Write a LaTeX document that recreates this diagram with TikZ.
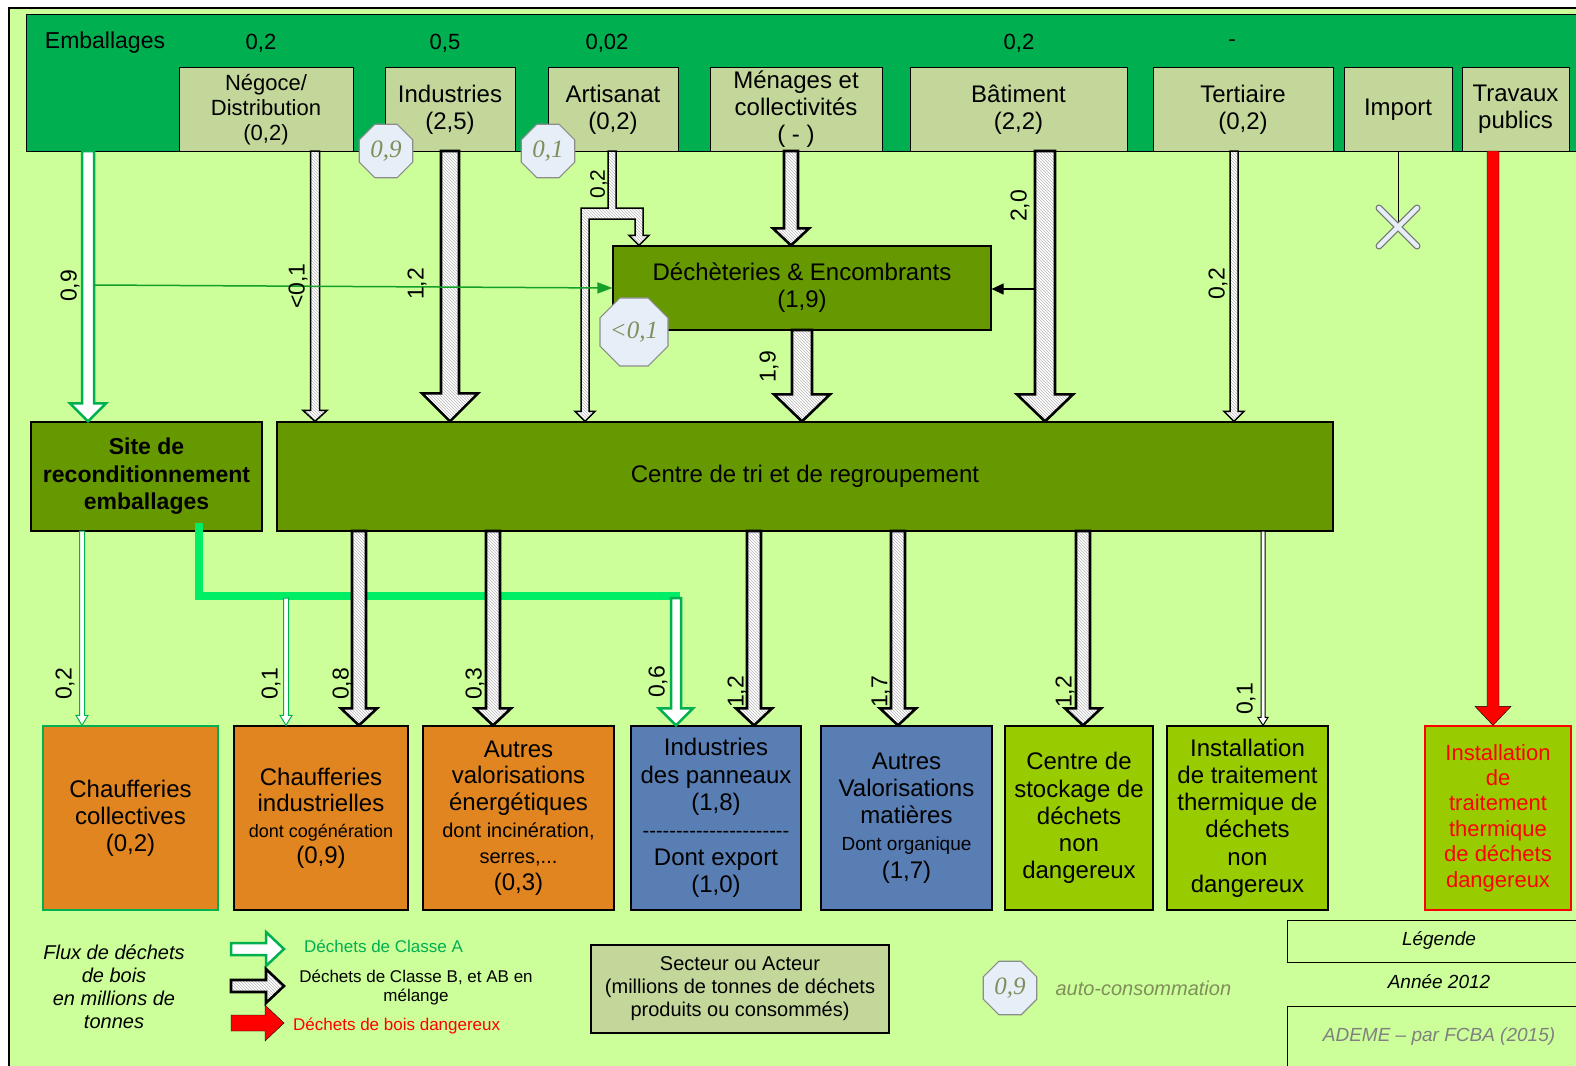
\documentclass[tikz,border=0pt]{standalone}
\usepackage{fontspec}
\setmainfont{Liberation Sans}
\newfontfamily\octfont{Liberation Serif}
\usetikzlibrary{calc,shapes.geometric,patterns,arrows.meta}
\definecolor{bgg}{RGB}{204,255,153}
\definecolor{bandg}{RGB}{0,176,80}
\definecolor{khaki}{RGB}{196,215,155}
\definecolor{olivebox}{RGB}{102,153,0}
\definecolor{orng}{RGB}{224,133,32}
\definecolor{blu}{RGB}{88,126,180}
\definecolor{ygreen}{RGB}{153,204,0}
\definecolor{brightg}{RGB}{0,238,102}
\definecolor{octfill}{RGB}{230,238,248}
\definecolor{octtext}{RGB}{128,142,90}
\definecolor{greenA}{RGB}{0,176,80}
\definecolor{thing}{RGB}{20,160,40}
\newcommand\fs[2]{\fontsize{#1}{#2}\selectfont}
\newcommand\hyph{\hbox{-}}
\newcommand\varrow[6]{\draw[#1] let \p1=#2, \p2=#3 in (\x1-#4,\y1) -- (\x1-#4,\y2+#6) -- (\x1-#5,\y2+#6) -- (\x1,\y2) -- (\x1+#5,\y2+#6) -- (\x1+#4,\y2+#6) -- (\x1+#4,\y1) -- cycle;}
\newcommand\harrow[6]{\draw[#1] let \p1=#2, \p2=#3 in (\x1,\y1+#4) -- (\x2-#6,\y1+#4) -- (\x2-#6,\y1+#5) -- (\x2,\y1) -- (\x2-#6,\y1-#5) -- (\x2-#6,\y1-#4) -- (\x1,\y1-#4) -- cycle;}
\begin{document}
\begin{tikzpicture}[x=1pt,y=-1pt,
  sect/.style={draw=black, line width=1pt, fill=khaki, minimum height=83pt, align=center, inner sep=1pt, font=\fs{24}{27}},
  obox/.style={draw=black, line width=1.2pt, fill=olivebox, align=center, inner sep=1pt, font=\fs{24}{27}},
  dbox/.style={draw=black, line width=1.2pt, minimum height=184pt, align=center, inner sep=1pt, font=\fs{24}{27.2}},
  oct/.style={regular polygon, regular polygon sides=8, minimum size=58pt, inner sep=0pt, fill=octfill, draw=black!45, line width=1.2pt, font=\octfont\itshape\fs{25}{25}, text=octtext},
  rlab/.style={rotate=90, font=\fs{23}{23}, inner sep=0pt},
  num/.style={font=\fs{22}{22}},
  arB/.style={draw=black, line width=2.6pt, preaction={fill=white}, pattern=north west lines, pattern color=black!28},
  arBthin/.style={draw=black, line width=1.5pt, preaction={fill=white}, pattern=north west lines, pattern color=black!28},
  arA/.style={draw=greenA, line width=2.5pt, fill=white},
  arAthin/.style={draw=greenA, line width=1pt, fill=white},
  lgtext/.style={font=\fs{17}{19}, inner sep=0pt}
]
\useasboundingbox (0,0) rectangle (1576,1065);
\clip (0,0) rectangle (1576,1065);
\fill[white] (0,0) rectangle (1576,1065);
\fill[bgg] (9,8) rectangle (1590,1075);
\draw[line width=2.5pt] (9,1075) -- (9,8) -- (1590,8);
\draw[fill=bandg, line width=1pt] (26,15) rectangle (1590,151);

% band labels
\node[font=\fs{23}{23}] (temb) at (105,43) {Emballages};
\node[num] (n1) at (261,43) {0,2};
\node[num] (n2) at (445,43) {0,5};
\node[num] (n3) at (607,43) {0,02};
\node[num] (n4) at (1019,43) {0,2};
\node[num] (n5) at (1232,43) {-};

% sector boxes
\node[sect, minimum width=174pt, font=\fs{22}{25}] (neg) at (266,109.5) {Négoce/\\Distribution\\(0,2)};
\node[sect, minimum width=130pt] (ind) at (450,109.5) {Industries\\(2,5)};
\node[sect, minimum width=130pt] (art) at (613,109.5) {Artisanat\\(0,2)};
\node[sect, minimum width=172pt] (men) at (796,109.5) {Ménages et\\collectivités\\( - )};
\node[sect, minimum width=217pt] (bat) at (1018.5,109.5) {Bâtiment\\(2,2)};
\node[sect, minimum width=180pt] (ter) at (1243,109.5) {Tertiaire\\(0,2)};
\node[sect, minimum width=108pt] (imp) at (1398,109.5) {Import};
\node[sect, minimum width=107pt] (trv) at (1515.5,109.5) {Travaux\\publics};

% middle boxes
\node[obox, minimum width=378pt, minimum height=84pt] (dech) at (802,288) {Déchèteries \& Encombrants\\(1,9)};
\node[obox, minimum width=231pt, minimum height=109pt, font=\bfseries\fs{23}{27.5}] (site) at (146.5,476.5) {Site de\\reconditionnement\\emballages};
\node[obox, minimum width=1056pt, minimum height=109pt] (tri) at (805,476.5) {Centre de tri et de regroupement};

% bottom boxes
\node[dbox, fill=orng, draw=greenA, minimum width=175pt] (b1) at (130.5,818) {Chaufferies\\collectives\\(0,2)};
\node[dbox, fill=orng, minimum width=174pt, font=\fs{24}{26}] (b2) at (321,818) {Chaufferies\\industrielles\\{\fs{18}{22}dont cogénération}\\(0,9)};
\node[dbox, fill=orng, minimum width=191pt, font=\fs{24}{26.6}] (b3) at (518.5,818) {Autres\\valorisations\\énergétiques\\{\fs{20}{24}dont incinération,}\\{\fs{20}{24}serres,...}\\(0,3)};
\node[dbox, fill=blu, minimum width=170pt, font=\fs{24}{27.4}] (b4) at (716,818) {Industries\\des panneaux\\(1,8)\\{\fs{20}{24}\hyph\hyph\hyph\hyph\hyph\hyph\hyph\hyph\hyph\hyph\hyph\hyph\hyph\hyph\hyph\hyph\hyph\hyph\hyph\hyph\hyph\hyph}\\Dont export\\(1,0)};
\node[dbox, fill=blu, minimum width=171pt] (b5) at (906.5,818) {Autres\\Valorisations\\matières\\{\fs{19}{23}Dont organique}\\(1,7)};
\node[dbox, fill=ygreen, minimum width=148pt] (b6) at (1079,818) {Centre de\\stockage de\\déchets\\non\\dangereux};
\node[dbox, fill=ygreen, minimum width=161pt] (b7) at (1247.5,818) {Installation\\de traitement\\thermique de\\déchets\\non\\dangereux};
\node[dbox, fill=ygreen, draw=red, text=red, minimum width=146pt, font=\fs{22}{25.4}] (b8) at (1498,818) {Installation\\de\\traitement\\thermique\\de déchets\\dangereux};

% coordinates
\coordinate (cemb) at (88,151);
\coordinate (cneg) at (315,151);
\coordinate (cind) at (450,151);
\coordinate (cart) at (612,151);
\coordinate (cmen) at (791,151);
\coordinate (cbat) at (1045,151);
\coordinate (cter) at (1234,151);
\coordinate (cimp) at (1398,151);
\coordinate (ctrv) at (1493,151);
\coordinate (cdech) at (802,330);
\coordinate (impx) at (1398,227);
\coordinate (gl) at (94,285);
\coordinate (bl) at (1035,289);
\coordinate (s1) at (82,531);
\coordinate (gtop) at (199,523);
\coordinate (gcorner) at (199,596);
\coordinate (gend) at (680,596);
\coordinate (g1) at (286,598);
\coordinate (g6) at (676,598);
\coordinate (t2) at (359,531);
\coordinate (t3) at (493,531);
\coordinate (t4) at (754,531);
\coordinate (t5) at (898,531);
\coordinate (t6) at (1083,531);
\coordinate (t7) at (1263,531);

% bright green line
\draw[brightg, line width=8pt] (gtop) -- (gcorner) -- (gend);

% top arrows
\varrow{arA}{(cemb)}{(cemb |- site.north)}{6pt}{18pt}{18pt}
\varrow{arBthin}{(cneg)}{(cneg |- tri.north)}{4.5pt}{12pt}{11pt}
\varrow{arB}{(cind)}{(cind |- tri.north)}{9pt}{28pt}{28pt}
\draw[arBthin] let \p1=(cart), \p2=(tri.north), \p3=(dech.north) in
  (\x1-4pt,\y1) -- (\x1-4pt,\y1-57pt) -- (\x1-31pt,\y1-57pt) -- (\x1-31pt,\y2+10pt) -- (\x1-37pt,\y2+10pt) -- (\x1-27pt,\y2) -- (\x1-17pt,\y2+10pt) -- (\x1-23pt,\y2+10pt) -- (\x1-23pt,\y1-68pt) -- (\x1+23pt,\y1-68pt) -- (\x1+23pt,\y3+10pt) -- (\x1+17pt,\y3+10pt) -- (\x1+27pt,\y3) -- (\x1+37pt,\y3+10pt) -- (\x1+31pt,\y3+10pt) -- (\x1+31pt,\y1-57pt) -- (\x1+4pt,\y1-57pt) -- (\x1+4pt,\y1) -- cycle;
\varrow{arB}{(cmen)}{(cmen |- dech.north)}{7pt}{18pt}{17pt}
\varrow{arB}{(cbat)}{(cbat |- tri.north)}{10pt}{28pt}{27pt}
\varrow{arBthin}{(cter)}{(cter |- tri.north)}{4pt}{10pt}{10pt}
\varrow{arB}{(cdech)}{(cdech |- tri.north)}{10pt}{28pt}{27pt}
\varrow{fill=red}{(ctrv)}{(ctrv |- b8.north)}{6pt}{18pt}{19pt}

% import
\draw[line width=1pt] (cimp) -- (impx);
\draw[black!55, line width=7pt, line cap=round] ($(impx)+(-19,-19)$) -- ($(impx)+(19,19)$);
\draw[black!55, line width=7pt, line cap=round] ($(impx)+(-19,19)$) -- ($(impx)+(19,-19)$);
\draw[octfill, line width=4.5pt, line cap=round] ($(impx)+(-19,-19)$) -- ($(impx)+(19,19)$);
\draw[octfill, line width=4.5pt, line cap=round] ($(impx)+(-19,19)$) -- ($(impx)+(19,-19)$);

% thin connectors to dech
\draw[thing, line width=1.5pt, -{Triangle[length=15pt,width=11pt]}] (gl) -- (dech.west);
\draw[black, line width=1.2pt, -{Triangle[length=12pt,width=11pt]}] (bl) -- (dech.east |- bl);

% bottom arrows
\varrow{arAthin}{(s1)}{(s1 |- b1.north)}{2.5pt}{6pt}{10pt}
\varrow{arAthin}{(g1)}{(g1 |- b2.north)}{2.5pt}{6pt}{10pt}
\varrow{arA}{(g6)}{(g6 |- b4.north)}{5pt}{17pt}{17pt}
\varrow{arB}{(t2)}{(t2 |- b2.north)}{7pt}{18pt}{17pt}
\varrow{arB}{(t3)}{(t3 |- b3.north)}{7pt}{18pt}{17pt}
\varrow{arB}{(t4)}{(t4 |- b4.north)}{7pt}{18pt}{17pt}
\varrow{arB}{(t5)}{(t5 |- b5.north)}{7pt}{18pt}{17pt}
\varrow{arB}{(t6)}{(t6 |- b6.north)}{7pt}{18pt}{17pt}
\varrow{draw=black, line width=1pt, fill=white}{(t7)}{(t7 |- b7.north)}{2pt}{5pt}{8pt}

% octagons
\node[oct] (o1) at (386,151) {0,9};
\node[oct] (o2) at (548,151) {0,1};
\node[oct] (o3) at (634,332) {<0,1};

% flow labels
\node[rlab] (l1) at (70,286) {0,9};
\node[rlab] (l2) at (298,286) {<0,1};
\node[rlab] (l3) at (417,284) {1,2};
\node[rlab, font=\fs{21}{21}] (l4) at (599,184) {0,2};
\node[rlab] (l5) at (1020,206) {2,0};
\node[rlab] (l6) at (1218,284) {0,2};
\node[rlab] (l7) at (769,367) {1,9};
\node[rlab] (l8) at (65,684) {0,2};
\node[rlab] (l9) at (271,684) {0,1};
\node[rlab] (l10) at (342,684) {0,8};
\node[rlab] (l11) at (475,684) {0,3};
\node[rlab] (l12) at (658,682) {0,6};
\node[rlab] (l13) at (737,692) {1,2};
\node[rlab] (l14) at (881,692) {1,7};
\node[rlab] (l15) at (1065,692) {1,2};
\node[rlab] (l16) at (1246,699) {0,1};

% legend
\node[font=\itshape\fs{20}{23}, align=center] (flux) at (114,987) {Flux de déchets\\de bois\\en millions de\\tonnes};
\coordinate (la1) at (231,949); \coordinate (la2) at (284,949);
\coordinate (lb1) at (231,986); \coordinate (lb2) at (284,986);
\coordinate (lr1) at (231,1023); \coordinate (lr2) at (284,1023);
\harrow{draw=greenA, line width=2.5pt, fill=white}{(la1)}{(la2)}{6pt}{17pt}{18pt}
\harrow{arB}{(lb1)}{(lb2)}{6pt}{17pt}{18pt}
\harrow{fill=red}{(lr1)}{(lr2)}{8pt}{18pt}{19pt}
\node[lgtext, anchor=west, text=greenA] (lga) at (304,946) {Déchets de Classe A};
\node[lgtext, align=center] (lgb) at (416,987) {Déchets de Classe B, et AB en\\mélange};
\node[lgtext, anchor=west, text=red] (lgr) at (293,1026) {Déchets de bois dangereux};
\node[draw=black, line width=1.2pt, fill=khaki, minimum width=298pt, minimum height=88pt, align=center, font=\fs{20}{23}] (sect) at (740,989) {Secteur ou Acteur\\(millions de tonnes de déchets\\produits ou consommés)};
\node[oct] (o4) at (1010,988) {0,9};
\node[anchor=west, text=octtext, font=\itshape\fs{20}{20}] (auto) at (1052,988) {auto-consommation};
\node[draw=black, line width=1.2pt, minimum width=310pt, minimum height=42pt, anchor=north west] (leg) at (1287,920) {};
\node[font=\itshape\fs{19}{19}] (legt) at (1439,940) {Légende};
\node[font=\itshape\fs{19}{19}] (annee) at (1439,982) {Année 2012};
\node[draw=black, line width=1.2pt, minimum width=310pt, minimum height=80pt, anchor=north west] (ademe) at (1287,1006) {};
\node[font=\itshape\fs{19}{19}, text=black!50] (ademet) at (1439,1037) {ADEME -- par FCBA (2015)};
\end{tikzpicture}
\end{document}
